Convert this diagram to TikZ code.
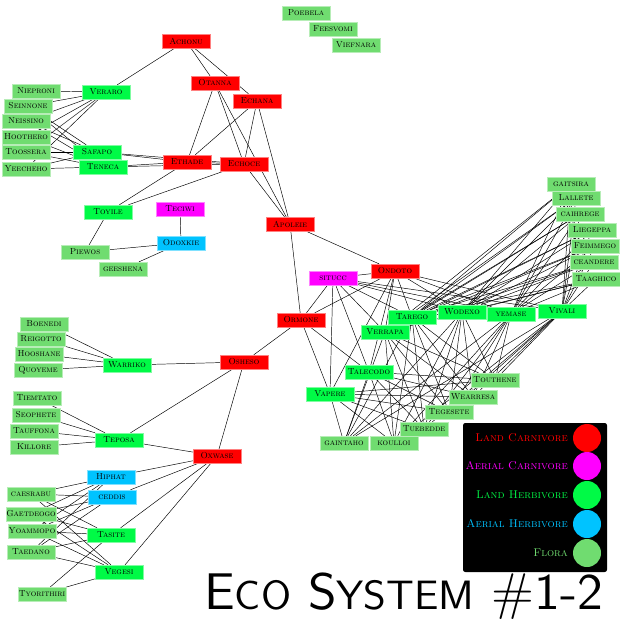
\documentclass[tikz,border=0pt]{standalone}
\usepackage{tikz}
\usetikzlibrary{positioning}
\pgfdeclarelayer{background}
\pgfsetlayers{background,main}

\definecolor{landcarn}{RGB}{255,0,0}
\definecolor{aircarn}{RGB}{255,0,255}
\definecolor{landherb}{RGB}{0,250,70}
\definecolor{airherb}{RGB}{0,195,255}
\definecolor{floracol}{RGB}{112,220,112}

\begin{document}
\begin{tikzpicture}[x=0.03cm, y=-0.03cm, line width=0.6pt,
            species/.style={rectangle, minimum width=1.44cm, minimum height=0.42cm, inner sep=0pt, line width=0.3pt,
                            font=\fontsize{7.4}{8}\selectfont\scshape},
            lc/.style={species, fill=landcarn, draw=landcarn!50!white},
            ac/.style={species, fill=aircarn, draw=aircarn!50!white},
            lh/.style={species, fill=landherb, draw=landherb!50!white},
            ah/.style={species, fill=airherb, draw=airherb!50!white},
            fl/.style={species, fill=floracol, draw=floracol!50!white},
            key/.style={circle, minimum size=0.84cm, inner sep=0pt},
            keytext/.style={anchor=east, font=\fontsize{9.6}{10}\selectfont\scshape}]

            \useasboundingbox (0,0) rectangle (620,620);

            % carnivores
            \node[lc] (achonu) at (186,41) {Achonu};
            \node[lc] (otanna) at (215,83) {Otanna};
            \node[lc] (echana) at (257,101) {Echana};
            \node[lc] (ethade) at (187,162) {Ethade};
            \node[lc] (echoce) at (244,164) {Echoce};
            \node[lc] (apoleie) at (290,224) {Apoleie};
            \node[lc] (ondoto) at (395,271) {Ondoto};
            \node[ac] (situcc) at (333,278) {situcc};
            \node[lc] (ormone) at (301,320) {Ormone};
            \node[lc] (osheso) at (244,362) {Osheso};
            \node[lc] (oxwase) at (217,456) {Oxwase};
            \node[ac] (teciwi) at (180,209) {Teciwi};

            % herbivores
            \node[ah] (odoxkie) at (181,243) {Odoxkie};
            \node[ah] (hiphat) at (111,477) {Hiphat};
            \node[ah] (ceddis) at (112,497) {ceddis};
            \node[lh] (veraro) at (106,92) {Veraro};
            \node[lh] (safapo) at (97,152) {Safapo};
            \node[lh] (teneca) at (103,167) {Teneca};
            \node[lh] (toyile) at (108,212) {Toyile};
            \node[lh] (warriko) at (127,365) {Warriko};
            \node[lh] (teposa) at (119,440) {Teposa};
            \node[lh] (tasite) at (111,535) {Tasite};
            \node[lh] (vegesi) at (119,572) {Vegesi};
            \node[lh] (tarego) at (412,317) {Tarego};
            \node[lh] (wodexo) at (462,312) {Wodexo};
            \node[lh] (yemase) at (511,314) {yemase};
            \node[lh] (vivali) at (562,311) {Vivali};
            \node[lh] (verrapa) at (385,332) {Verrapa};
            \node[lh] (talecodo) at (369,372) {Talecodo};
            \node[lh] (vapere) at (330,394) {Vapere};

            % flora
            \node[fl] (poebela) at (306,13) {Poebela};
            \node[fl] (feesvomi) at (333,29) {Feesvomi};
            \node[fl] (viefnara) at (356,45) {Viefnara};
            \node[fl] (niepro) at (36,91) {Niepron\i};
            \node[fl] (seinnone) at (28,106) {Seinnone};
            \node[fl] (neissino) at (26,121) {Neissino};
            \node[fl] (hoothero) at (26,137) {Hoothero};
            \node[fl] (toossera) at (26,152) {Toossera};
            \node[fl] (yeecheho) at (26,169) {Yeecheho};
            \node[fl] (piewos) at (85,252) {Piewos};
            \node[fl] (geeshena) at (123,269) {geeshena};
            \node[fl] (boenedi) at (44,324) {Boenedi};
            \node[fl] (reigotto) at (41,339) {Reigotto};
            \node[fl] (hooshane) at (39,354) {Hooshane};
            \node[fl] (quoyeme) at (38,370) {Quoyeme};
            \node[fl] (tiemtato) at (37,398) {Tiemtato};
            \node[fl] (seophete) at (36,415) {Seophete};
            \node[fl] (tauffona) at (34,431) {Tauffona};
            \node[fl] (killore) at (34,447) {Killore};
            \node[fl] (caesrabu) at (31,494) {caesrabu};
            \node[fl] (gaetdeogo) at (31,514) {Gaetdeogo};
            \node[fl] (yoammopo) at (32,531) {Yoammopo};
            \node[fl] (taedano) at (31,552) {Taedano};
            \node[fl] (tyorithiri) at (42,594) {Tyorithiri};
            \node[fl] (gaitsira) at (571,184) {gaitsira};
            \node[fl] (lallete) at (576,198) {Lallete};
            \node[fl] (caihrege) at (580,214) {caihrege};
            \node[fl] (liegeppa) at (592,230) {Liegeppa};
            \node[fl] (feimmego) at (595,246) {Feimmego};
            \node[fl] (ceandere) at (594,262) {ceandere};
            \node[fl] (taaghico) at (596,279) {Taaghico};
            \node[fl] (touthene) at (495,380) {Touthene};
            \node[fl] (wearresa) at (473,397) {Wearresa};
            \node[fl] (tegesete) at (449,412) {Tegesete};
            \node[fl] (tuebedde) at (424,429) {Tuebedde};
            \node[fl] (koulloi) at (394,443) {koulloi};
            \node[fl] (gaintaho) at (344,443) {gaintaho};

            \begin{pgfonlayer}{background}
            % upper left web
            \draw (achonu) -- (veraro); \draw (achonu) -- (otanna); \draw (achonu) -- (echana);
            \draw (otanna) -- (ethade); \draw (otanna) -- (echoce); \draw (otanna) -- (apoleie);
            \draw (echana) -- (ethade); \draw (echana) -- (echoce); \draw (echana) -- (apoleie);
            \draw (ethade) -- (echoce); \draw (echoce) -- (apoleie);
            \draw (ethade) -- (toyile); \draw (echoce) -- (toyile);
            \draw (safapo) -- (ethade); \draw (safapo) -- (echoce); \draw (teneca) -- (ethade); \draw (teneca) -- (echoce);
            \draw (niepro) -- (veraro); \draw (seinnone) -- (veraro); \draw (neissino) -- (veraro);
            \draw (hoothero) -- (veraro); \draw (toossera) -- (veraro); \draw (yeecheho) -- (veraro);
            \draw (seinnone) -- (safapo); \draw (neissino) -- (safapo); \draw (toossera) -- (safapo); \draw (yeecheho) -- (safapo);
            \draw (seinnone) -- (teneca); \draw (neissino) -- (teneca); \draw (hoothero) -- (teneca);
            \draw (toossera) -- (teneca); \draw (yeecheho) -- (teneca);
            \draw (toyile) -- (piewos); \draw (odoxkie) -- (teciwi); \draw (odoxkie) -- (piewos); \draw (odoxkie) -- (geeshena);

            % lower left web
            \draw (apoleie) -- (ormone); \draw (apoleie) -- (ondoto);
            \draw (warriko) -- (boenedi); \draw (warriko) -- (reigotto); \draw (warriko) -- (hooshane); \draw (warriko) -- (quoyeme);
            \draw (warriko) -- (osheso); \draw (osheso) -- (ormone); \draw (osheso) -- (teposa); \draw (osheso) -- (oxwase);
            \draw (teposa) -- (tiemtato); \draw (teposa) -- (seophete); \draw (teposa) -- (tauffona); \draw (teposa) -- (killore);
            \draw (teposa) -- (oxwase);
            \draw (oxwase) -- (hiphat); \draw (oxwase) -- (ceddis); \draw (oxwase) -- (tasite); \draw (oxwase) -- (vegesi);
            \draw (caesrabu) -- (hiphat); \draw (caesrabu) -- (ceddis); \draw (caesrabu) -- (tasite); \draw (caesrabu) -- (vegesi);
            \draw (gaetdeogo) -- (hiphat); \draw (gaetdeogo) -- (ceddis); \draw (gaetdeogo) -- (tasite); \draw (gaetdeogo) -- (vegesi);
            \draw (yoammopo) -- (hiphat); \draw (yoammopo) -- (ceddis); \draw (yoammopo) -- (tasite); \draw (yoammopo) -- (vegesi);
            \draw (taedano) -- (hiphat); \draw (taedano) -- (ceddis); \draw (taedano) -- (tasite); \draw (taedano) -- (vegesi);
            \draw (tyorithiri) -- (tasite); \draw (tyorithiri) -- (vegesi);

            % right web
            \draw (ondoto) -- (situcc); \draw (ondoto) -- (ormone); \draw (situcc) -- (ormone);
            \draw (ormone) -- (talecodo); \draw (ormone) -- (vapere);
            \draw (ondoto) -- (tarego); \draw (ondoto) -- (wodexo); \draw (ondoto) -- (yemase); \draw (ondoto) -- (vivali);
            \draw (ondoto) -- (verrapa); \draw (ondoto) -- (talecodo); \draw (ondoto) -- (vapere);
            \draw (situcc) -- (tarego); \draw (situcc) -- (wodexo); \draw (situcc) -- (yemase); \draw (situcc) -- (vivali);
            \draw (situcc) -- (verrapa); \draw (situcc) -- (talecodo); \draw (situcc) -- (vapere);

            \draw (tarego) -- (gaitsira); \draw (tarego) -- (lallete); \draw (tarego) -- (caihrege); \draw (tarego) -- (liegeppa);
            \draw (tarego) -- (feimmego); \draw (tarego) -- (ceandere); \draw (tarego) -- (taaghico);
            \draw (verrapa) -- (gaitsira); \draw (verrapa) -- (lallete); \draw (verrapa) -- (caihrege); \draw (verrapa) -- (liegeppa);
            \draw (verrapa) -- (feimmego); \draw (verrapa) -- (ceandere); \draw (verrapa) -- (taaghico);
            \draw (wodexo) -- (gaitsira); \draw (wodexo) -- (lallete); \draw (wodexo) -- (caihrege); \draw (wodexo) -- (liegeppa);
            \draw (wodexo) -- (feimmego); \draw (wodexo) -- (ceandere); \draw (wodexo) -- (taaghico);
            \draw (yemase) -- (gaitsira); \draw (yemase) -- (lallete); \draw (yemase) -- (caihrege); \draw (yemase) -- (liegeppa);
            \draw (yemase) -- (feimmego); \draw (yemase) -- (ceandere); \draw (yemase) -- (taaghico);
            \draw (vivali) -- (gaitsira); \draw (vivali) -- (lallete); \draw (vivali) -- (caihrege); \draw (vivali) -- (liegeppa);
            \draw (vivali) -- (feimmego); \draw (vivali) -- (ceandere); \draw (vivali) -- (taaghico);

            \draw (verrapa) -- (touthene); \draw (verrapa) -- (wearresa); \draw (verrapa) -- (tegesete);
            \draw (verrapa) -- (tuebedde); \draw (verrapa) -- (koulloi); \draw (verrapa) -- (gaintaho);
            \draw (tarego) -- (touthene); \draw (tarego) -- (wearresa); \draw (tarego) -- (tegesete);
            \draw (tarego) -- (tuebedde); \draw (tarego) -- (koulloi); \draw (tarego) -- (gaintaho);
            \draw (wodexo) -- (touthene); \draw (wodexo) -- (wearresa); \draw (wodexo) -- (tegesete);
            \draw (wodexo) -- (tuebedde); \draw (wodexo) -- (koulloi); \draw (wodexo) -- (gaintaho);
            \draw (yemase) -- (touthene); \draw (yemase) -- (wearresa); \draw (yemase) -- (tegesete);
            \draw (yemase) -- (tuebedde); \draw (yemase) -- (koulloi); \draw (yemase) -- (gaintaho);
            \draw (vivali) -- (touthene); \draw (vivali) -- (wearresa); \draw (vivali) -- (tegesete);
            \draw (vivali) -- (tuebedde); \draw (vivali) -- (koulloi); \draw (vivali) -- (gaintaho);
            \draw (talecodo) -- (touthene); \draw (talecodo) -- (wearresa); \draw (talecodo) -- (tegesete);
            \draw (talecodo) -- (tuebedde); \draw (talecodo) -- (koulloi); \draw (talecodo) -- (gaintaho);
            \draw (vapere) -- (touthene); \draw (vapere) -- (wearresa); \draw (vapere) -- (tegesete);
            \draw (vapere) -- (tuebedde); \draw (vapere) -- (koulloi); \draw (vapere) -- (gaintaho);
            \end{pgfonlayer}

            % legend
            \node[fill=black, rounded corners=2pt, minimum width=4.32cm, minimum height=4.47cm, inner sep=0pt] (legend) at (535,497.5) {};
            \node[key, fill=landcarn] (k1) at (587,438) {};
            \node[key, fill=aircarn] (k2) at (587,466) {};
            \node[key, fill=landherb] (k3) at (587,495) {};
            \node[key, fill=airherb] (k4) at (587,524) {};
            \node[key, fill=floracol] (k5) at (587,553) {};
            \node[keytext, text=landcarn] (t1) at (572,438) {Land Carnivore};
            \node[keytext, text=aircarn] (t2) at (572,466) {Aerial Carnivore};
            \node[keytext, text=landherb] (t3) at (572,495) {Land Herbivore};
            \node[keytext, text=airherb] (t4) at (572,524) {Aerial Herbivore};
            \node[keytext, text=floracol] (t5) at (572,553) {Flora};

            \node[anchor=base west, inner sep=0pt, transform shape, xscale=1.06, font=\sffamily\fontsize{44}{44}\selectfont] (title) at (204,609)
                {E{\fontsize{35}{35}\selectfont CO} S{\fontsize{35}{35}\selectfont YSTEM} \#1-2};
        \end{tikzpicture}
\end{document}
